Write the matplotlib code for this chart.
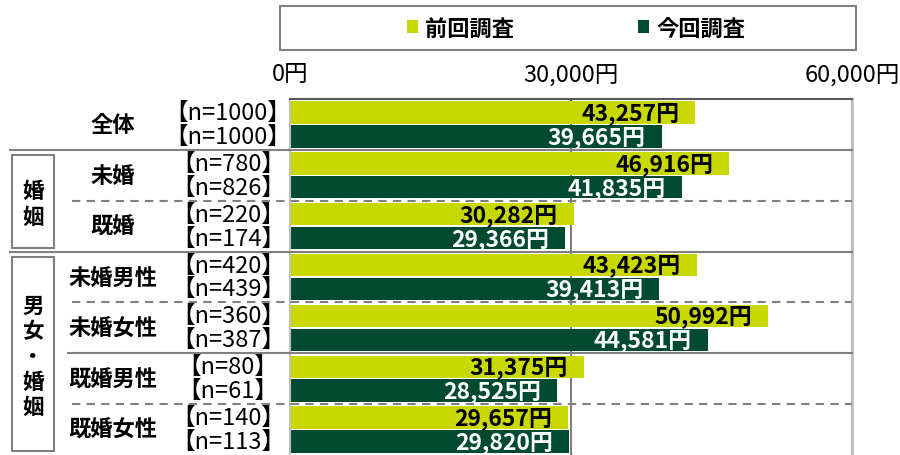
import matplotlib
matplotlib.use("Agg")
import matplotlib.pyplot as plt
from matplotlib.patches import Rectangle
import numpy as np

plt.rcParams['font.family'] = ['Noto Sans CJK JP', 'DejaVu Sans']

# data
categories = ["全体", "未婚", "既婚", "未婚男性", "未婚女性", "既婚男性", "既婚女性"]
prev_values = [43257, 46916, 30282, 43423, 50992, 31375, 29657]
curr_values = [39665, 41835, 29366, 39413, 44581, 28525, 29820]
n_prev = [1000, 780, 220, 420, 360, 80, 140]
n_curr = [1000, 826, 174, 439, 387, 61, 113]
series_names = ["前回調査", "今回調査"]
x_ticks = [0, 30000, 60000]
tick_labels = ["0円", "30,000円", "60,000円"]

# groups drawn at the left: (label, first category, last category)
groups = [("婚姻", 1, 2), ("男女・婚姻", 3, 6)]
solid_after = [0, 2, 4]
dashed_after = [1, 3, 5]

YELLOW = "#C8D800"
GREEN = "#004B30"
GRAY = "#808080"

W, H = 900, 456
fig = plt.figure(figsize=(W / 100, H / 100), dpi=100)
ax = fig.add_axes([290 / W, 0, (852 - 290) / W, (456 - 100) / H])

y = np.arange(len(categories))
off = 0.235
hgt = 0.44
b1 = ax.barh(y - off, prev_values, height=hgt, color=YELLOW, zorder=2, label=series_names[0])
b2 = ax.barh(y + off, curr_values, height=hgt, color=GREEN, zorder=2, label=series_names[1])

ax.set_xlim(0, 60000)
ax.set_ylim(len(categories) - 0.5, -0.5)

# value labels inside bar ends
for yy, v in zip(y - off, prev_values):
    ax.annotate(f"{v:,}円", (v, yy), xytext=(-11.5, 0), textcoords="offset points",
                ha="right", va="center", fontsize=16.5, fontweight="bold", color="black", zorder=3)
for yy, v in zip(y + off, curr_values):
    ax.annotate(f"{v:,}円", (v, yy), xytext=(-11.5, 0), textcoords="offset points",
                ha="right", va="center", fontsize=16.5, fontweight="bold", color="white", zorder=3)

# axes styling
ax.set_xticks(x_ticks)
ax.set_xticklabels(tick_labels)
ax.set_yticks([])
ax.tick_params(axis="x", top=True, bottom=False, labeltop=True, labelbottom=False,
               direction="in", length=5, width=1.5, color="#595959", pad=10,
               labelsize=17, labelcolor="black")
ax.grid(axis="x", color=GRAY, linewidth=1.5)
ax.set_axisbelow(True)
ax.spines["bottom"].set_visible(False)
ax.spines["top"].set_color("#595959")
ax.spines["top"].set_linewidth(1.5)
ax.spines["left"].set_color("#C0C0C0")
ax.spines["left"].set_linewidth(1.5)
ax.spines["right"].set_color("#C0C0C0")
ax.spines["right"].set_linewidth(2)

tr = ax.get_yaxis_transform()


def px2ax(px):
    return (px - 290) / (852 - 290)


# row labels
for i, cat in enumerate(categories):
    ax.text(px2ax(113), i, cat, transform=tr, ha="center", va="center",
            fontsize=16, fontweight="bold", clip_on=False)
    ax.text(px2ax(228), i - off, f"【n={n_prev[i]}】", transform=tr, ha="center",
            va="center", fontsize=17, clip_on=False)
    ax.text(px2ax(228), i + off, f"【n={n_curr[i]}】", transform=tr, ha="center",
            va="center", fontsize=17, clip_on=False)

# separators
for i in solid_after:
    x0 = 10 if i < 4 else 68
    ax.plot([px2ax(x0), 1], [i + 0.5, i + 0.5], transform=tr, color=GRAY,
            linewidth=1.5, clip_on=False, zorder=4)
for i in dashed_after:
    ax.plot([px2ax(72), 1], [i + 0.5, i + 0.5], transform=tr, color=GRAY,
            linewidth=1.5, linestyle=(0, (4, 3)), clip_on=False, zorder=4)

# group boxes with stacked labels
for label, a, b in groups:
    top = a - 0.5 + 0.1
    bot = b + 0.5 - 0.08
    rect = Rectangle((px2ax(12), top), px2ax(54) - px2ax(12), bot - top, transform=tr,
                     facecolor="white", edgecolor=GRAY, linewidth=1.5, clip_on=False, zorder=5)
    ax.add_patch(rect)
    center = (top + bot) / 2 + 0.04
    step = 0.5
    for k, ch in enumerate(label):
        ax.text(px2ax(33), center + (k - (len(label) - 1) / 2) * step, ch, transform=tr,
                ha="center", va="center", fontsize=15.5, fontweight="bold",
                clip_on=False, zorder=6)

# legend frame + entries
fig.patches.append(Rectangle((280 / W, 1 - 51 / H), 576 / W, 44 / H,
                             transform=fig.transFigure, facecolor="white",
                             edgecolor=GRAY, linewidth=1.5))
leg = fig.legend(handles=[b1, b2], labels=series_names, loc="center", ncol=2,
                 bbox_to_anchor=(288 / W, 1 - 51 / H, 576 / W, 44 / H),
                 frameon=False,
                 handlelength=0.5, handleheight=0.5, handletextpad=0.3,
                 columnspacing=5.6, prop={"size": 16, "weight": "bold"},
                 borderaxespad=0)

fig.savefig("out.png", dpi=100)
